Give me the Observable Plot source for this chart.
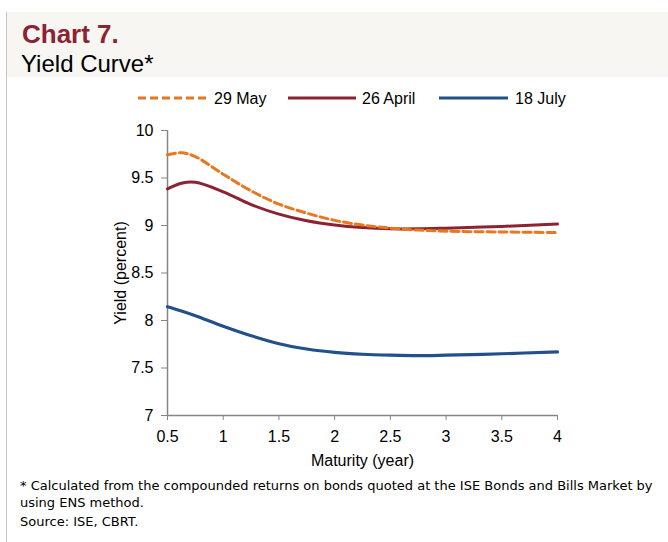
<!DOCTYPE html>
<html>
<head>
<meta charset="utf-8">
<script src="https://cdn.jsdelivr.net/npm/d3@7"></script>
<script src="https://cdn.jsdelivr.net/npm/@observablehq/plot@0.6"></script>
<style>
  html, body { margin: 0; padding: 0; }
  body { width: 668px; height: 542px; position: relative; overflow: hidden; background: #fff; font-family: "Liberation Sans", Arial, sans-serif; }
  #border { position: absolute; left: 6px; top: 12px; width: 1px; height: 530px; background: #c4c4c4; }
  #header { position: absolute; left: 7px; top: 12px; width: 661px; height: 65px; background: #f7f6f2; }
  #t1 { position: absolute; left: 22px; top: 21px; font-size: 26px; line-height: 26px; font-weight: bold; color: #8c2332; white-space: nowrap; }
  #t2 { position: absolute; left: 21px; top: 52px; font-size: 24px; line-height: 24px; color: #000; white-space: nowrap; }
  #legend { position: absolute; left: 0; top: 85px; }
  #chart { position: absolute; left: 0; top: 115px; }
  #foot { position: absolute; left: 20px; top: 477px; font-family: "DejaVu Sans", sans-serif; font-size: 13px; line-height: 17px; color: #000; white-space: nowrap; }
  #foot .src { margin-top: 2px; }
</style>
</head>
<body>
<div id="border"></div>
<div id="header"></div>
<div id="t1">Chart 7.</div>
<div id="t2">Yield Curve*</div>
<div id="legend"></div>
<div id="chart"></div>
<div id="foot">* Calculated from the compounded returns on bonds quoted at the ISE Bonds and Bills Market by<br>using ENS method.<div class="src">Source: ISE, CBRT.</div></div>
<script>
// ---- data ----
const maturity = [0.5, 0.625, 0.75, 1, 1.25, 1.5, 1.75, 2, 2.25, 2.5, 2.75, 3, 3.5, 4];
const may29   = [9.745, 9.765, 9.725, 9.54, 9.365, 9.225, 9.13, 9.054, 9.005, 8.972, 8.952, 8.94, 8.932, 8.925];
const april26 = [9.386, 9.445, 9.455, 9.355, 9.22, 9.12, 9.05, 9.005, 8.978, 8.965, 8.965, 8.972, 8.99, 9.015];
const july18  = [8.145, 8.10, 8.05, 7.94, 7.84, 7.755, 7.70, 7.665, 7.645, 7.635, 7.63, 7.635, 7.65, 7.67];
const seriesNames = ["29 May", "26 April", "18 July"];
const seriesColors = ["#e8771e", "#8c2332", "#21508a"];
const yTicks = [7, 7.5, 8, 8.5, 9, 9.5, 10];
const xTicks = [0.5, 1, 1.5, 2, 2.5, 3, 3.5, 4];

const seriesValues = [may29, april26, july18];
const rows = [];
seriesNames.forEach((name, i) => {
  maturity.forEach((m, j) => rows.push({series: name, maturity: m, yield: seriesValues[i][j]}));
});

// ---- legend ----
const legendItems = [
  {name: seriesNames[0], color: seriesColors[0], x0: 138, x1: 208, tx: 214, dash: "8,4"},
  {name: seriesNames[1], color: seriesColors[1], x0: 288, x1: 356, tx: 362, dash: null},
  {name: seriesNames[2], color: seriesColors[2], x0: 439, x1: 508, tx: 515, dash: null}
];
const lsvg = d3.create("svg").attr("width", 668).attr("height", 25);
legendItems.forEach(d => {
  const l = lsvg.append("line").attr("x1", d.x0).attr("x2", d.x1).attr("y1", 13).attr("y2", 13)
    .attr("stroke", d.color).attr("stroke-width", 3);
  if (d.dash) l.attr("stroke-dasharray", d.dash);
  lsvg.append("text").attr("x", d.tx).attr("y", 19).attr("font-family", "Liberation Sans, Arial, sans-serif")
    .attr("font-size", 16).attr("fill", "#000").text(d.name);
});
document.getElementById("legend").append(lsvg.node());

// ---- chart ----
const fmt = d => String(d);
const chart = Plot.plot({
  width: 580,
  height: 355,
  marginTop: 15,
  marginBottom: 55,
  marginLeft: 167,
  marginRight: 23,
  style: {fontFamily: "Liberation Sans, Arial, sans-serif", fontSize: "16px", color: "#000", background: "transparent"},
  x: {domain: [0.5, 4]},
  y: {domain: [7, 10]},
  color: {domain: seriesNames, range: seriesColors},
  marks: [
    Plot.axisX({ticks: xTicks, tickFormat: fmt, tickSize: 5, tickPadding: 10, stroke: "#868686", label: "Maturity (year)", labelAnchor: "center", labelArrow: "none", labelOffset: 50, fontSize: 16}),
    Plot.axisY({ticks: yTicks, tickFormat: fmt, tickSize: 6, tickPadding: 8, stroke: "#868686", label: null, fontSize: 16}),
    Plot.axisY({ticks: [], tickSize: 0, label: "Yield (percent)", labelAnchor: "center", labelArrow: "none", labelOffset: 53, fontSize: 16}),
    Plot.ruleX([0.5], {stroke: "#868686", strokeWidth: 1.5}),
    Plot.ruleY([7], {stroke: "#868686", strokeWidth: 1.5}),
    Plot.line(rows.filter(d => d.series === seriesNames[1]), {x: "maturity", y: "yield", stroke: "series", strokeWidth: 3, curve: "catmull-rom"}),
    Plot.line(rows.filter(d => d.series === seriesNames[2]), {x: "maturity", y: "yield", stroke: "series", strokeWidth: 3.2, curve: "catmull-rom"}),
    Plot.line(rows.filter(d => d.series === seriesNames[0]), {x: "maturity", y: "yield", stroke: "series", strokeWidth: 3, strokeDasharray: "8,4", curve: "catmull-rom"})
  ]
});
document.getElementById("chart").append(chart);
</script>
</body>
</html>
